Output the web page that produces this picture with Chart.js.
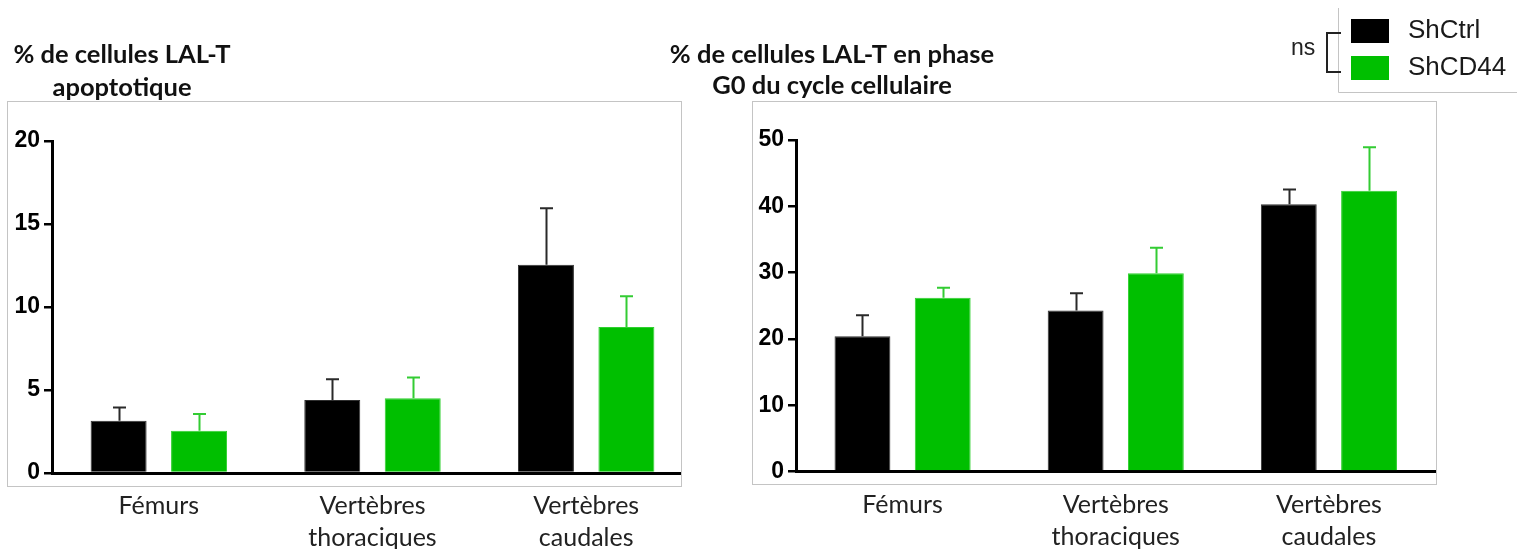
<!DOCTYPE html>
<html>
<head>
<meta charset="utf-8">
<script src="https://cdn.jsdelivr.net/npm/chart.js@4.4.1/dist/chart.umd.min.js"></script>
<style>
  html, body { margin: 0; padding: 0; background: #ffffff; }
  #wrap { position: relative; width: 1517px; height: 549px; overflow: hidden; background: #ffffff; }
  canvas { position: absolute; top: 0; }
  #apoCanvas { left: 0; }
  #g0Canvas { left: 640px; }
</style>
</head>
<body>
<div id="wrap">
  <canvas id="apoCanvas" width="700" height="549"></canvas>
  <canvas id="g0Canvas" width="877" height="549"></canvas>
</div>
<script>
// Sites of the skeleton
const categories = ['Fémurs', ['Vertèbres', 'thoraciques'], ['Vertèbres', 'caudales']];
const seriesNames = ['ShCtrl', 'ShCD44'];

// % of apoptotic T-ALL cells (mean and SEM)
const apoShCtrl = [3.15, 4.4, 12.55];
const apoShCtrlErr = [0.8, 1.25, 3.4];
const apoShCD44 = [2.55, 4.5, 8.8];
const apoShCD44Err = [1.0, 1.25, 1.85];
const apoTicks = [0, 5, 10, 15, 20];

// % of T-ALL cells in G0 phase (mean and SEM)
const g0ShCtrl = [20.4, 24.3, 40.3];
const g0ShCtrlErr = [3.15, 2.6, 2.25];
const g0ShCD44 = [26.2, 29.9, 42.35];
const g0ShCD44Err = [1.5, 3.85, 6.55];
const g0Ticks = [0, 10, 20, 30, 40, 50];

const titleApo = ['% de cellules LAL-T', 'apoptotique'];
const titleG0 = ['% de cellules LAL-T en phase', 'G0 du cycle cellulaire'];

const BLACK = '#000000';
const GREEN = '#00bf00';
const ERR_COLORS = ['#2a2a2a', '#33cc33'];

// Error bars (upper whisker only) drawn from each dataset's error array
const errorBars = {
  id: 'errorBars',
  afterDatasetsDraw(chart) {
    const ctx = chart.ctx;
    const yScale = chart.scales.y;
    chart.data.datasets.forEach((ds, i) => {
      const meta = chart.getDatasetMeta(i);
      ctx.save();
      ctx.strokeStyle = ERR_COLORS[i];
      ctx.lineWidth = 2;
      meta.data.forEach((bar, j) => {
        const top = yScale.getPixelForValue(ds.data[j] + ds.errors[j]);
        const x = Math.round(bar.x) + 0.5;
        ctx.beginPath();
        ctx.moveTo(x, bar.y);
        ctx.lineTo(x, top);
        ctx.moveTo(x - 6.5, top);
        ctx.lineTo(x + 6.5, top);
        ctx.stroke();
      });
      ctx.restore();
    });
  }
};

// Panel frame and two-line centred heading; optionally masks whatever runs past the frame
const panelDecor = {
  id: 'panelDecor',
  beforeDraw(chart, args, opts) {
    const ctx = chart.ctx;
    ctx.save();
    if (opts.opaque) {
      ctx.fillStyle = '#ffffff';
      ctx.fillRect(0, 0, chart.width, chart.height);
    }
    ctx.fillStyle = '#111111';
    ctx.font = 'bold 25.5px Lato';
    ctx.textAlign = 'center';
    ctx.textBaseline = 'middle';
    opts.title.forEach((line, k) => {
      ctx.fillText(line, opts.titleX, opts.titleY[k]);
    });
    ctx.restore();
  },
  afterDraw(chart, args, opts) {
    const ctx = chart.ctx;
    const f = opts.frame;
    ctx.save();
    if (opts.mask) {
      ctx.fillStyle = '#ffffff';
      ctx.fillRect(f[2] + 1, 0, chart.width - f[2] - 1, chart.height);
    }
    ctx.strokeStyle = '#c4c4c4';
    ctx.lineWidth = 1;
    ctx.strokeRect(f[0] + 0.5, f[1] + 0.5, f[2] - f[0], f[3] - f[1]);
    ctx.restore();
  }
};

// Legend box with the "ns" bracket, built from the datasets
const sideLegend = {
  id: 'sideLegend',
  afterDraw(chart, args, opts) {
    if (!opts.show) return;
    const ctx = chart.ctx;
    const L = opts.x;
    ctx.save();
    ctx.fillStyle = '#ffffff';
    ctx.fillRect(L + 1, 0, chart.width - L - 1, 92);
    ctx.strokeStyle = '#c4c4c4';
    ctx.lineWidth = 1;
    ctx.beginPath();
    ctx.moveTo(L + 0.5, 8);
    ctx.lineTo(L + 0.5, 92.5);
    ctx.lineTo(chart.width, 92.5);
    ctx.stroke();
    const rows = [31, 68];
    chart.data.datasets.forEach((ds, i) => {
      ctx.fillStyle = ds.backgroundColor;
      ctx.fillRect(L + 13, rows[i] - 12, 38, 24);
      ctx.fillStyle = '#1a1a1a';
      ctx.font = '26px "Liberation Sans"';
      ctx.textAlign = 'left';
      ctx.textBaseline = 'middle';
      ctx.fillText(ds.label, L + 70, rows[i]);
    });
    ctx.strokeStyle = '#222222';
    ctx.lineWidth = 2;
    ctx.beginPath();
    ctx.moveTo(L + 3, 33);
    ctx.lineTo(L - 11, 33);
    ctx.lineTo(L - 11, 72);
    ctx.lineTo(L + 3, 72);
    ctx.stroke();
    ctx.fillStyle = '#222222';
    ctx.font = '23px "Liberation Sans"';
    ctx.textAlign = 'left';
    ctx.textBaseline = 'middle';
    ctx.fillText('ns', L - 47, 49);
    ctx.restore();
  }
};

function makeChart(canvasId, ctrl, ctrlErr, cd44, cd44Err, ticks, cfg) {
  return new Chart(document.getElementById(canvasId), {
    type: 'bar',
    data: {
      labels: categories,
      datasets: [
        { label: seriesNames[0], data: ctrl, errors: ctrlErr, backgroundColor: BLACK,
          borderColor: '#303030', borderWidth: 1, borderSkipped: 'bottom' },
        { label: seriesNames[1], data: cd44, errors: cd44Err, backgroundColor: GREEN,
          borderColor: '#2fd02f', borderWidth: 1, borderSkipped: 'bottom' }
      ]
    },
    options: {
      responsive: false,
      animation: false,
      devicePixelRatio: 1,
      layout: { padding: { left: 0, right: cfg.padRight, top: cfg.top, bottom: 0 } },
      datasets: { bar: { categoryPercentage: 0.753, barPercentage: 0.696 } },
      plugins: {
        legend: { display: false },
        title: { display: false },
        tooltip: { enabled: false },
        panelDecor: { frame: cfg.frame, title: cfg.title, titleX: cfg.titleX, titleY: cfg.titleY,
                      opaque: cfg.opaque, mask: cfg.mask },
        sideLegend: { show: cfg.legend, x: cfg.legendX }
      },
      scales: {
        x: {
          grid: { display: false },
          border: { display: true, color: '#000000', width: 3 },
          ticks: {
            color: '#222222',
            padding: 9,
            maxRotation: 0,
            autoSkip: false,
            font: { family: 'Lato', size: 25, lineHeight: 1.28 }
          },
          afterFit(scale) { scale.height = 549 - cfg.bottom; }
        },
        y: {
          min: ticks[0],
          max: ticks[ticks.length - 1],
          afterBuildTicks(scale) { scale.ticks = ticks.map(v => ({ value: v })); },
          grid: { display: true, drawOnChartArea: false, drawTicks: true, tickLength: 8,
                  color: '#000000', lineWidth: 2.5 },
          border: { display: true, color: '#000000', width: 3 },
          ticks: {
            color: '#000000',
            padding: 4,
            font: { family: '"Liberation Sans"', size: 23, weight: 'bold' }
          },
          afterFit(scale) { scale.width = cfg.left; }
        }
      }
    },
    plugins: [panelDecor, errorBars, sideLegend]
  });
}

makeChart('apoCanvas', apoShCtrl, apoShCtrlErr, apoShCD44, apoShCD44Err, apoTicks, {
  left: 52, padRight: 7, top: 141, bottom: 473,
  frame: [7, 101, 681, 486],
  title: titleApo, titleX: 122, titleY: [55, 88],
  opaque: true, mask: true, legend: false
});

makeChart('g0Canvas', g0ShCtrl, g0ShCtrlErr, g0ShCD44, g0ShCD44Err, g0Ticks, {
  left: 156, padRight: 81.5, top: 140, bottom: 471.5,
  frame: [112, 101, 796, 484],
  title: titleG0, titleX: 192, titleY: [55, 86],
  opaque: false, mask: false, legend: true, legendX: 698
});
</script>
</body>
</html>
